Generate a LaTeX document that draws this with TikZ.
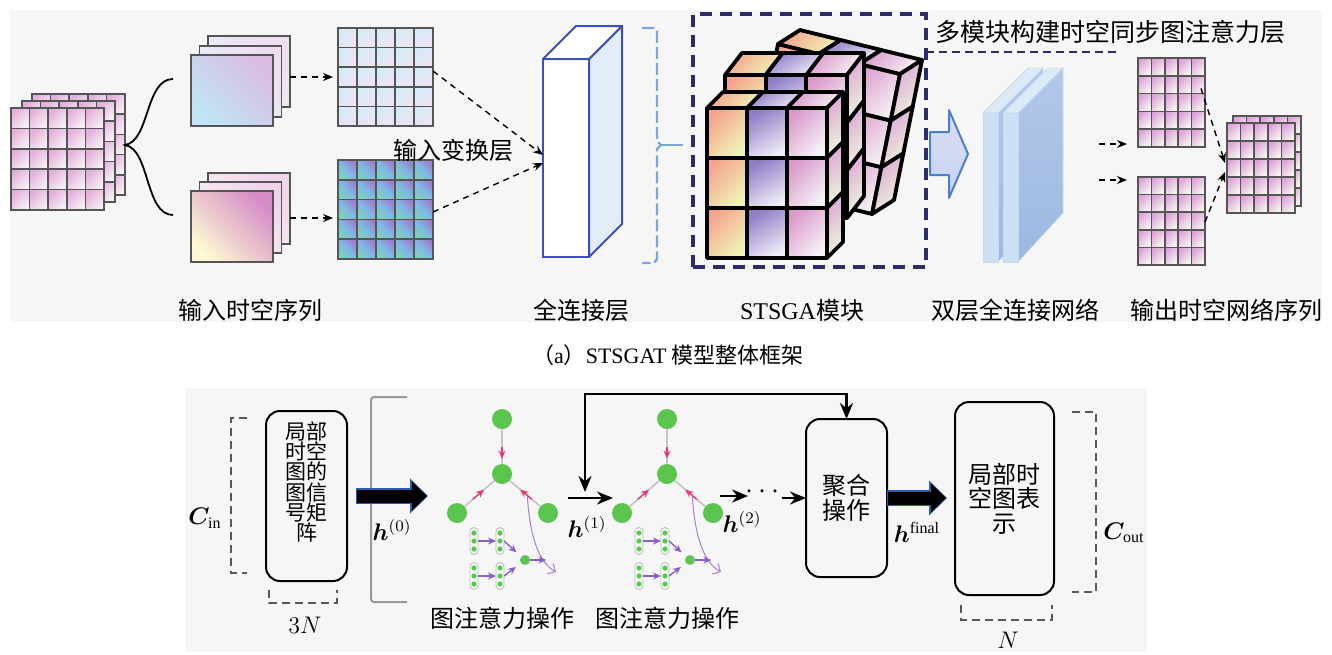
\documentclass[tikz,border=0pt]{standalone}
\usepackage{amsmath, amssymb, bm}
\usepackage{fontspec}
\setmainfont{Liberation Serif}
\newfontfamily\cjk{Noto Sans CJK SC}
\usepackage{xcolor}
\usepackage{tikz}
\usetikzlibrary{positioning,arrows.meta,calc}

\definecolor{gridgray}{HTML}{555555}
\definecolor{navy}{HTML}{2C2C68}
\definecolor{fcblue}{HTML}{3D4FB8}
\definecolor{fcside}{HTML}{E2EDF9}
\definecolor{braceblue}{HTML}{7BA7DC}
\definecolor{arrowblue}{HTML}{4A7FD0}
\definecolor{gatgreen}{HTML}{5CC550}
\definecolor{gatred}{HTML}{EC3A6E}
\definecolor{gatpurple}{HTML}{8E5FCB}
\definecolor{edgegray}{HTML}{C4C4C4}
\definecolor{panelbg}{HTML}{F6F6F6}
\definecolor{glowblue}{HTML}{2A5DB0}
\definecolor{roseA}{HTML}{E3AEDA}
\definecolor{roseB}{HTML}{F7F0F6}
\definecolor{skyA}{HTML}{D3ECF8}
\definecolor{skyB}{HTML}{F0E2F2}
\definecolor{tealA}{HTML}{9D7FCB}
\definecolor{tealB}{HTML}{7FD0B8}
\definecolor{tealM}{HTML}{7FB8E6}
\definecolor{outA}{HTML}{DFA2DA}
\definecolor{outB}{HTML}{F4F9EE}
\definecolor{cubeAa}{HTML}{F4A48E}
\definecolor{cubeAb}{HTML}{EFF5B6}
\definecolor{cubeBa}{HTML}{8E7EC6}
\definecolor{cubeBb}{HTML}{F0ECF7}
\definecolor{cubeCa}{HTML}{DB9ACB}
\definecolor{cubeCb}{HTML}{F6F3F7}
\definecolor{cubeRa}{HTML}{DCA6D6}
\definecolor{cubeRb}{HTML}{EEF6DC}
\definecolor{plSkyBackA}{HTML}{EFDDF0}
\definecolor{plSkyBackB}{HTML}{E6F3FA}
\definecolor{plSkyA}{HTML}{D9BDE3}
\definecolor{plSkyB}{HTML}{BFE5F7}
\definecolor{plRoseBackA}{HTML}{F0D4EA}
\definecolor{plRoseBackB}{HTML}{FBF3F8}
\definecolor{plRoseA}{HTML}{D68CC6}
\definecolor{plRoseB}{HTML}{FCF8D2}
\definecolor{hollowA}{HTML}{DCDDF4}
\definecolor{hollowB}{HTML}{C6D3F0}
\definecolor{ffEdge}{HTML}{C9DAEF}
\definecolor{ffSideA}{HTML}{B2C8E9}
\definecolor{ffSideB}{HTML}{9DB8E0}
\definecolor{ffTop}{HTML}{DCEAF8}
\definecolor{ffFront}{HTML}{CDE1F4}

\tikzset{
  gridcell/.style={draw=gridgray, line width=0.8pt},
  cellrose/.style={top color=roseA, bottom color=roseB, shading angle=45},
  cellsky/.style={top color=skyA, bottom color=skyB, shading angle=45},
  cellteal/.style={top color=tealA, bottom color=tealB, middle color=tealM, shading angle=-45},
  cellout/.style={top color=outA, bottom color=outB, shading angle=45},
  cubecell/.style={draw=black, line width=1.9pt, line join=round},
  cubeA/.style={top color=cubeAa, bottom color=cubeAb, shading angle=45},
  cubeB/.style={top color=cubeBa, bottom color=cubeBb, shading angle=30},
  cubeC/.style={top color=cubeCa, bottom color=cubeCb, shading angle=45},
  cubeR/.style={top color=cubeRa, bottom color=cubeRb, shading angle=45}
}

% 5x5 grid of shaded cells: left, top, width, height, cell style
\newcommand{\cellgrid}[5]{%
  \foreach \ci in {0,...,4}{\foreach \cj in {0,...,4}{%
    \path[gridcell,#5] ({#1+\ci*(#3)/5},{#2+\cj*(#4)/5}) rectangle ++({(#3)/5},{(#4)/5});}}}

% one slab of the cube: origin, width vector, height vector, depth vector
\newcommand{\cubeslab}[8]{%
  \foreach \ci/\cs in {0/cubeA,1/cubeB,2/cubeC}{%
    \foreach \cj in {0,1,2}{%
      \path[cubecell,\cs] ({#1+\ci*(#3)/3+\cj*(#5)/3},{#2+\ci*(#4)/3+\cj*(#6)/3})
        -- ++({(#3)/3},{(#4)/3}) -- ++({(#5)/3},{(#6)/3}) -- ++({-(#3)/3},{-(#4)/3}) -- cycle;}
    \path[cubecell,\cs] ({#1+\ci*(#3)/3},{#2+\ci*(#4)/3})
      -- ++({(#3)/3},{(#4)/3}) -- ++(#7,#8) -- ++({-(#3)/3},{-(#4)/3}) -- cycle;}
  \foreach \cj in {0,1,2}{%
    \path[cubecell,cubeR] ({#1+#3+\cj*(#5)/3},{#2+#4+\cj*(#6)/3})
      -- ++(#7,#8) -- ++({(#5)/3},{(#6)/3}) -- ++({-(#7)},{-(#8)}) -- cycle;}}

\begin{document}
\begin{tikzpicture}[x=0.5pt, y=-0.5pt, >=Stealth,
    box/.style={inner sep=0pt, outer sep=0pt},
    lbl/.style={font=\cjk\fontsize{12}{14}\selectfont, inner sep=0pt},
    plate/.style={box, draw=gridgray, line width=0.8pt, minimum width=41pt, minimum height=35.5pt},
    skyback/.style={top color=plSkyBackA, bottom color=plSkyBackB, shading angle=-45},
    sky/.style={top color=plSkyA, bottom color=plSkyB, shading angle=-45},
    roseback/.style={top color=plRoseBackA, bottom color=plRoseBackB, shading angle=-45},
    rose/.style={top color=plRoseA, bottom color=plRoseB, shading angle=-45},
    dasharr/.style={-{Stealth[length=5pt,width=4pt]}, line width=0.7pt, dash pattern=on 3pt off 2.5pt},
    arr/.style={-{Stealth[length=8pt,width=6.5pt]}, line width=1.2pt},
    bigglow/.style={draw=glowblue, line width=8pt, -{Triangle[length=9pt,width=17pt]}},
    bigarr/.style={draw=black, line width=6.5pt, -{Triangle[length=7.5pt,width=14pt]}},
    rbox/.style={box, draw, line width=1pt, rounded corners=7pt, align=center,
      font=\cjk\fontsize{12}{12.2}\selectfont},
    dbr/.style={draw=gray!70!black, line width=0.9pt, dash pattern=on 4pt off 2.5pt},
    gnode/.style={circle, fill=gatgreen, minimum size=10pt, inner sep=0pt},
    gedge/.style={edgegray, line width=0.8pt},
    redarr/.style={gatred, line width=0.7pt, -{Stealth[length=4pt,width=3.5pt]}},
    parr/.style={gatpurple, line width=0.7pt, -{Stealth[length=4pt,width=3.5pt]}},
    pill/.style={box, draw=gray!55, fill=green!6, rounded corners=2pt, minimum width=4pt, minimum height=13.5pt},
    mathlbl/.style={font=\fontsize{12}{14}\selectfont, inner sep=0pt}]

  \useasboundingbox (0,0) rectangle (1332,654);
  \fill[panelbg] (10,10) rectangle (1322,322);
  \fill[panelbg] (185,388) rectangle (1147,652);

  % input sequence stack and brace
  \cellgrid{32}{94}{93}{101}{cellrose}
  \cellgrid{22}{101}{93}{101}{cellrose}
  \cellgrid{11}{108}{93}{102}{cellrose}
  \node[box, minimum width=46.5pt, minimum height=51pt] (seqback) at (78.5,145) {};
  \coordinate (bru) at (173,79);
  \coordinate (brd) at (173,215);
  \draw[line width=0.9pt] (bru) .. controls (145,79) and (150,141) .. (seqback.east)
    .. controls (150,149) and (145,215) .. (brd);

  % time slices
  \node[plate, skyback] (fA3) at (249,71.5) {};
  \node[plate, skyback] (fA2) at (240.5,81.5) {};
  \node[plate, sky] (fA1) at (232,90.5) {};
  \node[plate, roseback] (fB3) at (249,208.5) {};
  \node[plate, roseback] (fB2) at (240.5,217.5) {};
  \node[plate, rose] (fB1) at (232,226.5) {};

  % input transform grids
  \cellgrid{338}{28}{95}{98}{cellsky}
  \cellgrid{338}{160}{95}{99}{cellteal}
  \node[box, minimum width=47.5pt, minimum height=49pt] (gA) at (385.5,77) {};
  \node[box, minimum width=47.5pt, minimum height=49.5pt] (gB) at (385.5,209.5) {};
  \draw[dasharr] (fA3.east |- gA.west) -- ($(gA.west)+(-5,0)$);
  \draw[dasharr] (fB3.east |- 0,218) -- ($(gB.west |- 0,218)+(-5,0)$);
  \node[lbl] (lbltrans) at (453,150) {输入变换层};

  % fully connected layer
  \node[box, draw=fcblue, line width=1pt, fill=white, minimum width=23pt, minimum height=99pt] (fc) at (566,158) {};
  \draw[fcblue, line width=1pt, line join=round, fill=fcside]
    (fc.north east) -- ++(33,-33) -- ++(0,198) -- (fc.south east) -- cycle;
  \draw[fcblue, line width=1pt, line join=round, fill=white]
    (fc.north west) -- ++(33,-33) -- ++(46,0) -- (fc.north east) -- cycle;
  \draw[dasharr] (gA.east |- 0,71) -- ($(fc.west)+(0,-3)$);
  \draw[dasharr] (gB.east |- 0,212) -- ($(fc.west)+(0,5)$);
  \draw[braceblue, line width=1.2pt, dash pattern=on 6pt off 2pt]
    (642,28) -- (654,28) -- (657,31) -- (657,141) -- (661,145) -- (657,149)
    -- (657,259) -- (654,263) -- (642,263);
  \draw[braceblue, line width=1.2pt] (661,145) -- (683,145);

  % STSGA module
  \node[box, draw=navy, line width=2pt, dash pattern=on 6pt off 4pt,
    minimum width=116.5pt, minimum height=126.5pt] (stsga) at (809.5,140.5) {};
  \cubeslab{778}{44}{122}{30}{-28}{140}{22}{-14}
  \cubeslab{725}{75}{122}{0}{0}{143}{17}{-22}
  \cubeslab{707}{108}{120}{0}{0}{150}{16}{-16}
  \coordinate (tline) at (1120,52);
  \draw[navy, line width=1pt, dash pattern=on 4pt off 2.5pt] (stsga.east |- tline) -- (tline);
  \node[lbl, font=\cjk\fontsize{12.5}{14}\selectfont] (mtitle) at (1110,32) {多模块构建时空同步图注意力层};

  % two-layer fully connected network
  \path[draw=arrowblue, line width=1pt, line join=round, top color=hollowA, bottom color=hollowB]
    (930,132) -- (949,132) -- (949,110) -- (968,154) -- (949,198) -- (949,175) -- (930,175) -- cycle;
  \foreach \px in {983,1003}{
    \path[draw=ffEdge, line width=0.4pt, top color=ffSideA, bottom color=ffSideB]
      (\px+15,113) -- (\px+60,68) -- (\px+60,213) -- (\px+15,262) -- cycle;
    \path[draw=ffEdge, line width=0.4pt, fill=ffTop]
      (\px,113) -- (\px+15,113) -- (\px+60,68) -- (\px+45,68) -- cycle;
    \path[draw=ffEdge, line width=0.4pt, fill=ffFront] (\px,113) rectangle (\px+15,262);
  }

  % output grids
  \cellgrid{1138}{58}{67}{89}{cellout}
  \cellgrid{1138}{177}{67}{88}{cellout}
  \cellgrid{1233}{116}{68}{90}{cellout}
  \cellgrid{1227}{123}{68}{90}{cellout}
  \node[box, minimum width=33.5pt, minimum height=44.5pt] (oA) at (1171.5,102.5) {};
  \node[box, minimum width=33.5pt, minimum height=44pt] (oB) at (1171.5,221) {};
  \node[box, minimum width=34pt, minimum height=45pt] (os) at (1261,168) {};
  \coordinate (fo1) at (1099,144);
  \coordinate (fo2) at (1099,180);
  \draw[dasharr] (fo1) -- ($(oA.west |- fo1)+(-11,0)$);
  \draw[dasharr] (fo2) -- ($(oB.west |- fo2)+(-11,0)$);
  \draw[dasharr] ($(oA.east)+(-4,-14)$) -- ($(os.west)+(-2,-5)$);
  \draw[dasharr] ($(oB.east)+(0,1)$) -- ($(os.west)+(-2,4)$);

  % labels of the top row
  \node[lbl] (lblseq) at (250,310) {输入时空序列};
  \node[lbl] (lblfc) at (581,310) {全连接层};
  \node[lbl] (lblst) at (802,310) {{\rmfamily STSGA}模块};
  \node[lbl] (lblff) at (1015,310) {双层全连接网络};
  \node[lbl] (lblout) at (1226,310) {输出时空网络序列};
  \node[font=\fontsize{11}{13}\selectfont, inner sep=0pt] (cap) at (668,355)
    {{\cjk （}a{\cjk ）}STSGAT {\cjk 模型整体框架}};

  % bottom: local spatio-temporal graph signal
  \node[rbox, minimum width=40.5pt, minimum height=85pt] (inbox) at (306.5,496) {};
  \node[box, align=center, font=\cjk\fontsize{10.5}{10.1}\selectfont] (intext) at (306.5,482)
    {局部\\时空\\图的\\图信\\号矩\\阵};
  \draw[dbr] (247,418) -- (231,418) -- (231,573) -- (247,573);
  \node[mathlbl] (cin) at (205,518) {$\bm{C}_{\mathrm{in}}$};
  \draw[dbr] (269,590) -- (269,603) -- (337,603) -- (337,590);
  \node[mathlbl] (n3) at (305,625) {$3N$};
  \draw[gray!80, line width=1pt, rounded corners=1.5pt] (407,397) -- (371,397) -- (371,602) -- (407,602);
  \draw[bigglow] ([xshift=4.5pt]inbox.east) -- ++(72,0);
  \draw[bigarr] ([xshift=5pt]inbox.east) -- ++(70,0);
  \node[mathlbl] (h0) at (392,530) {$\bm{h}^{(0)}$};

  % two graph attention operations
  \foreach \g/\dx in {1/0,2/165}{
    \begin{scope}[shift={(\dx,0)}]
      \node[gnode] (t\g) at (502,419) {};
      \node[gnode] (m\g) at (502,474) {};
      \node[gnode] (l\g) at (457,513) {};
      \node[gnode] (r\g) at (548,513) {};
      \draw[gedge] (t\g) -- (m\g) (l\g) -- (m\g) (r\g) -- (m\g);
      \draw[redarr] ($(t\g)!0.5!(m\g)$) -- ($(t\g)!0.72!(m\g)$);
      \draw[redarr] ($(l\g)!0.35!(m\g)$) -- ($(l\g)!0.6!(m\g)$);
      \draw[redarr] ($(r\g)!0.35!(m\g)$) -- ($(r\g)!0.6!(m\g)$);
      \draw[gatpurple!80, line width=0.5pt, -{Straight Barb[length=3pt]}]
        ($(r\g)!0.45!(m\g)$) .. controls (530,540) and (540,563) .. (556,572);
      \node[pill] (pa\g) at (474,541) {};
      \node[pill] (pb\g) at (500,541) {};
      \node[pill] (pc\g) at (474,576) {};
      \node[pill] (pd\g) at (500,576) {};
      \foreach \pp in {pa,pb,pc,pd}
        \foreach \py in {-8,0,8}
          \fill[gatgreen] ($(\pp\g)+(0,\py)$) circle (1.3pt);
      \node[gnode, minimum size=5pt] (s\g) at (525,560) {};
      \draw[parr] (pa\g) -- (pb\g);
      \draw[parr] (pc\g) -- (pd\g);
      \draw[parr, shorten >=3pt] (pb\g.east) -- (s\g);
      \draw[parr, shorten >=3pt] (pd\g.east) -- (s\g);
      \draw[parr] (s\g.east) -- ++(16,0);
      \node[lbl] (gat\g) at (502,618) {图注意力操作};
    \end{scope}
  }

  % arrows between the operations
  \coordinate (h1s) at (568,498);
  \coordinate (h1e) at (613,498);
  \coordinate (fb) at (585,492);
  \draw[arr] (h1s) -- (h1e);
  \node[mathlbl] (h1) at (587,527) {$\bm{h}^{(1)}$};
  \node[mathlbl] (h2) at (742,522) {$\bm{h}^{(2)}$};
  \node[rbox, minimum width=40.5pt, minimum height=79pt] (agg) at (846.5,498) {聚合\\操作};
  \draw[{Stealth[length=8pt,width=6.5pt]}-{Stealth[length=8pt,width=6.5pt]}, line width=1.2pt]
    (fb) -- ++(0,-98) -| (agg.north);
  \coordinate (h2s) at (720,496);
  \draw[arr] (h2s) -- ++(28,0);
  \node[inner sep=0pt, font=\bfseries\fontsize{14}{14}\selectfont] (dots) at (765,492) {$\cdots$};
  \draw[arr] ($(agg.west)+(-24,0)$) -- (agg.west);

  % output representation
  \node[rbox, minimum width=49.5pt, minimum height=96.5pt] (outbox) at (1004.5,498.5) {局部时\\空图表\\示};
  \draw[bigglow] (agg.east) -- ++(60,0);
  \draw[bigarr] ([xshift=0.5pt]agg.east) -- ++(58,0);
  \node[mathlbl] (hf) at (917,532) {$\bm{h}^{\mathrm{final}}$};
  \draw[dbr] (1072,412) -- (1096,412) -- (1096,592) -- (1072,592);
  \node[mathlbl] (cout) at (1124,533) {$\bm{C}_{\mathrm{out}}$};
  \draw[dbr] (961,605) -- (961,620) -- (1052,620) -- (1052,605);
  \node[mathlbl] (n1) at (1008,640) {$N$};
\end{tikzpicture}
\end{document}
